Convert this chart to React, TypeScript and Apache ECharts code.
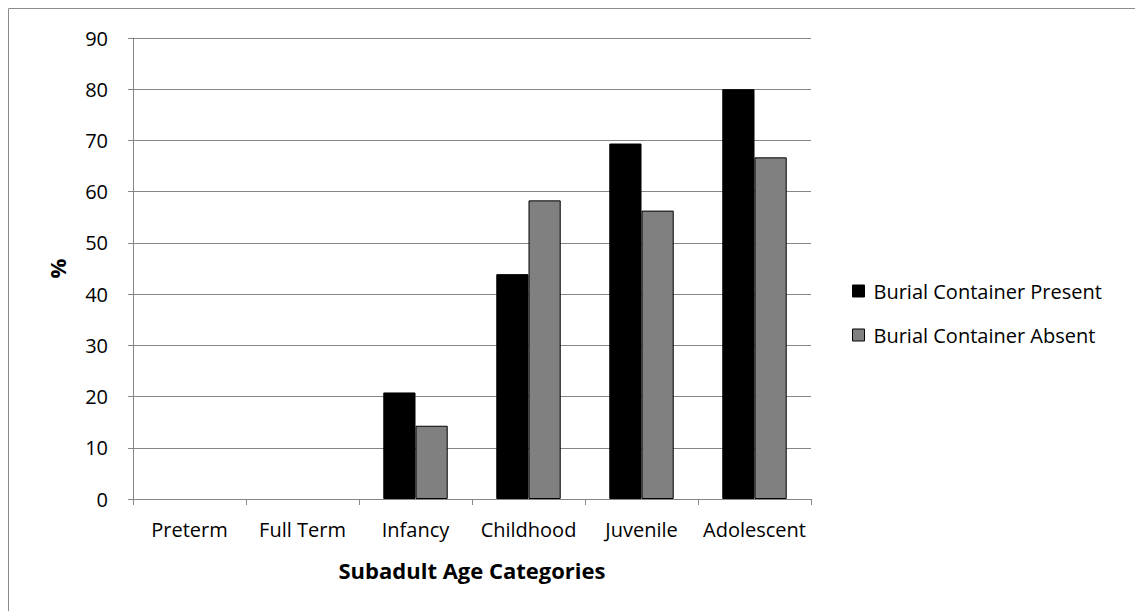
import React, { useEffect, useRef } from "react";
import * as echarts from "echarts";

const categories = ["Preterm", "Full Term", "Infancy", "Childhood", "Juvenile", "Adolescent"];
const presentValues = [0, 0, 20.8, 43.9, 69.4, 80.0];
const absentValues = [0, 0, 14.3, 58.3, 56.3, 66.7];
const seriesNames = ["Burial Container Present", "Burial Container Absent"];
const yTicks = { min: 0, max: 90, interval: 10 };
const xTitle = "Subadult Age Categories";
const yTitle = "%";

const FONT = "'Open Sans', sans-serif";

const toBarData = (vals: number[]) =>
  vals.map((v) => (v === 0 ? { value: v, itemStyle: { borderWidth: 0, opacity: 0 } } : v));

export default function App() {
  const ref = useRef<HTMLDivElement>(null);
  useEffect(() => {
    if (!ref.current) return;
    const chart = echarts.init(ref.current, null, { renderer: "svg" });
    chart.setOption({
      animation: false,
      backgroundColor: "#ffffff",
      textStyle: { fontFamily: FONT },
      graphic: [
        {
          type: "rect",
          shape: { x: 8.5, y: 8.5, width: 1300, height: 800 },
          style: { fill: "none", stroke: "#8c8c8c", lineWidth: 1 },
          silent: true,
        },
      ],
      grid: { left: 133, top: 38, width: 678, height: 461 },
      legend: {
        orient: "vertical",
        left: 852,
        top: 281,
        padding: 0,
        itemWidth: 12,
        itemHeight: 12,
        itemGap: 24,
        icon: "rect",
        textStyle: { fontFamily: FONT, fontSize: 20, color: "#000", padding: [0, 0, 0, 4] },
        data: [
          { name: seriesNames[0], itemStyle: { color: "#000", borderColor: "#000", borderWidth: 1 } },
          { name: seriesNames[1], itemStyle: { color: "#808080", borderColor: "#000", borderWidth: 1 } },
        ],
      },
      xAxis: {
        type: "category",
        data: categories,
        boundaryGap: true,
        name: xTitle,
        nameLocation: "middle",
        nameGap: 60,
        nameTextStyle: { fontFamily: FONT, fontSize: 22, fontWeight: "bold", color: "#000" },
        axisLine: { lineStyle: { color: "#868686", width: 1 } },
        axisTick: { show: true, length: 6, lineStyle: { color: "#868686" } },
        axisLabel: { fontFamily: FONT, fontSize: 20, color: "#000", margin: 20, interval: 0 },
        splitLine: { show: false },
      },
      yAxis: {
        type: "value",
        min: yTicks.min,
        max: yTicks.max,
        interval: yTicks.interval,
        name: yTitle,
        nameLocation: "middle",
        nameGap: 65,
        nameRotate: 90,
        nameTextStyle: { fontFamily: FONT, fontSize: 22, fontWeight: "bold", color: "#000" },
        axisLine: { show: true, lineStyle: { color: "#868686", width: 1 } },
        axisTick: { show: true, length: 5, lineStyle: { color: "#868686" } },
        axisLabel: { fontFamily: FONT, fontSize: 20, color: "#000", margin: 25 },
        splitLine: { show: true, lineStyle: { color: "#868686", width: 1 } },
      },
      series: [
        {
          name: seriesNames[0],
          type: "bar",
          data: toBarData(presentValues),
          barGap: "0%",
          barCategoryGap: "43%",
          itemStyle: { color: "#000000", borderColor: "#000", borderWidth: 1 },
        },
        {
          name: seriesNames[1],
          type: "bar",
          data: toBarData(absentValues),
          barGap: "0%",
          barCategoryGap: "43%",
          itemStyle: { color: "#808080", borderColor: "#000", borderWidth: 1 },
        },
      ],
    });
    return () => chart.dispose();
  }, []);
  return (
    <div
      ref={ref}
      style={{ position: "fixed", left: 0, top: 0, width: 1135, height: 611 }}
    />
  );
}
